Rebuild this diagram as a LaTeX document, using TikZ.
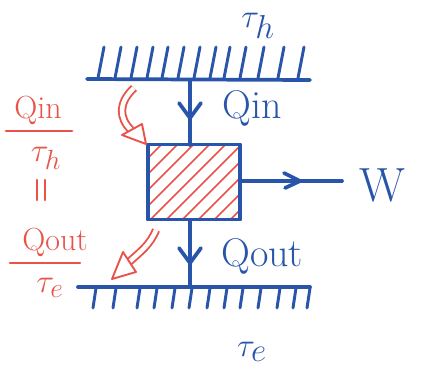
\documentclass[tikz,border=0pt]{standalone}
\usetikzlibrary{arrows.meta}
\definecolor{penblue}{RGB}{40,84,170}
\definecolor{penred}{RGB}{232,82,72}
\tikzset{
  ink/.style={draw=penblue, line width=2.8pt, line cap=round, line join=round},
  hatch/.style={draw=penblue, line width=2.2pt, line cap=round},
  redink/.style={draw=penred, line width=2pt, line cap=round, line join=round},
  bluetxt/.style={text=penblue, font=\fontsize{30}{32}\selectfont, inner sep=0pt},
  redtxt/.style={text=penred, font=\fontsize{24}{26}\selectfont, inner sep=0pt},
  hollowshaft/.style={draw=penred, line width=1.4pt, double=white, double distance=3.4pt, line cap=butt},
  hollowhead/.style={draw=penred, line width=1.4pt, fill=white, line join=round}
}
\begin{document}
\begin{tikzpicture}[x=0.75pt,y=-0.75pt]
\useasboundingbox (0,0) rectangle (424,383);

% hot reservoir wall
\coordinate (hotL) at (87,79);
\coordinate (hotR) at (310,80);
\draw[ink] (hotL) -- (hotR);
\foreach \x in {98,115,131,147,162,178,194,210,224,240,258,278,298}
  \draw[hatch] (\x,78) -- (\x+6,47);
\node[bluetxt, font=\fontsize{36}{38}\selectfont] (th) at (258,26) {$\tau_h$};

% cold reservoir wall
\coordinate (coldL) at (78,287);
\coordinate (coldR) at (310,287);
\draw[ink] (coldL) -- (coldR);
\foreach \x in {96,116,140,157,175,192,210,227,243,261,280,296,310}
  \draw[hatch] (\x,288) -- (\x-3,308);
\node[bluetxt, font=\fontsize{38}{40}\selectfont] (tc) at (252,352) {$\tau_e$};

% engine box with red hatching
\node[draw=none, minimum width=69pt, minimum height=56pt, inner sep=0pt] (eng) at (194,182) {};
\begin{scope}
  \clip (eng.south west) rectangle (eng.north east);
  \foreach \k in {-80,-64,...,120}
    \draw[penred, line width=1.3pt] (148+\k,222) -- (148+\k+80,142);
\end{scope}
\draw[ink] (eng.south west) rectangle (eng.north east);

% heat flow in
\coordinate (topin) at (190,80);
\draw[ink] (topin) -- (190,145);
\draw[ink] (179,103) -- (190,118) -- (201,103);
\node[bluetxt, anchor=west] (qin) at (222,108) {Qin};

% heat flow out
\coordinate (botout) at (190,286);
\draw[ink] (190,220) -- (botout);
\draw[ink] (179,248) -- (190,263) -- (201,248);
\node[bluetxt, anchor=west] (qout) at (221,256) {Qout};

% work output
\coordinate (wend) at (342,181);
\draw[ink] (eng.east |- wend) -- (wend);
\draw[ink] (284,173) -- (300,181) -- (285,188);
\node[bluetxt, font=\fontsize{36}{38}\selectfont] (w) at (382,185) {W};

% entropy flow arrows (hollow)
\draw[hollowshaft] (134,88) .. controls (118,103) and (119,118) .. (131,130);
\draw[hollowhead] (122,135) -- (142,124) -- (146,144) -- cycle;
\draw[hollowshaft] (156,230) .. controls (150,245) and (140,252) .. (129,262);
\draw[hollowhead] (123,252) -- (136,272) -- (112,279) -- cycle;

% entropy balance
\node[redtxt] (rq1) at (38,110) {Qin};
\draw[redink] (6,131) -- (72,131);
\node[redtxt, font=\fontsize{28}{30}\selectfont] (rt1) at (46,158) {$\tau_h$};
\draw[redink] (37,180) -- (37,200);
\draw[redink] (45,180) -- (45,200);
\node[redtxt] (rq2) at (55,242) {Qout};
\draw[redink] (10,263) -- (80,263);
\node[redtxt, font=\fontsize{28}{30}\selectfont] (rt2) at (50,288) {$\tau_e$};
\end{tikzpicture}
\end{document}
